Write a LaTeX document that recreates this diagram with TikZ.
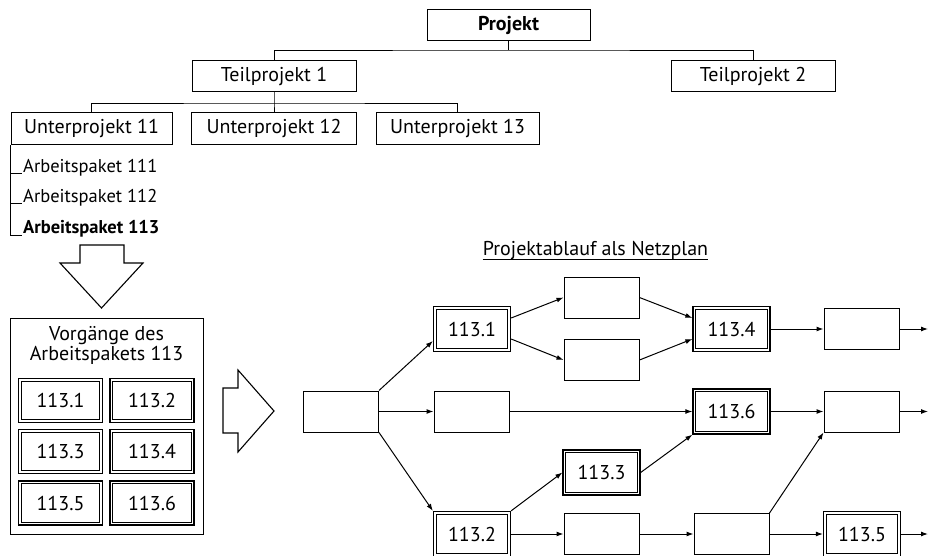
\documentclass[tikz,border=0pt]{standalone}
\usepackage{fontspec}
\setmainfont{PT Sans}
\usetikzlibrary{arrows.meta,calc}
\begin{document}
\begin{tikzpicture}[x=1pt,y=-1pt,
  lbl/.style={font=\fontsize{20}{22}\selectfont},
  small/.style={font=\fontsize{18.5}{20}\selectfont},
  box/.style={draw,line width=1pt,inner sep=0pt,lbl},
  tree/.style={box,minimum height=31pt},
  act/.style={box,minimum width=75pt,minimum height=41pt},
  dbl/.style={box,line width=1.3pt,minimum width=77pt,minimum height=45pt},
  inner/.style={line width=0.7pt},
  link/.style={line width=0.9pt},
  flow/.style={line width=1pt,-{Latex[length=7pt,width=5pt]}},
  block/.style={draw,line width=1.1pt,line join=miter}
]
\useasboundingbox (0,0) rectangle (928,556);

% ---------- project structure tree ----------
\node[tree,minimum width=163pt] (proj) at (508.5,25.5) {\textbf{Projekt}};
\node[tree,minimum width=164pt] (tp1) at (274,76.5) {Teilprojekt 1};
\node[tree,minimum width=164pt] (tp2) at (753,76.5) {Teilprojekt 2};
\node[tree,minimum width=161pt,minimum height=32pt] (up11) at (91.5,129) {Unterprojekt 11};
\node[tree,minimum width=165pt,minimum height=32pt] (up12) at (274,129) {Unterprojekt 12};
\node[tree,minimum width=163pt,minimum height=32pt] (up13) at (457.5,129) {Unterprojekt 13};

\coordinate (bus1) at (508.5,50);
\coordinate (bus2) at (274,103);
\draw[link] (proj.south) -- (bus1);
\draw[link] (tp1.north) |- (bus1) -| (tp2.north);
\draw[link] (tp1.south) -- (bus2) -- (up12.north);
\draw[link] (up11.north) |- (bus2) -| (up13.north);

% work packages below Unterprojekt 11
\node[small,inner sep=0pt,anchor=base west] (ap1) at (23,172) {Arbeitspaket 111};
\node[small,inner sep=0pt,anchor=base west] (ap2) at (23,202) {Arbeitspaket 112};
\node[small,inner sep=0pt,anchor=base west] (ap3) at (23,233) {\textbf{Arbeitspaket 113}};
\draw[link] (up11.south west) |- ([xshift=-1pt,yshift=-2pt]ap3.base west);
\draw[link] ([yshift=-1pt]up11.south west |- ap1.base) -- ([xshift=-1pt,yshift=-1pt]ap1.base west);
\draw[link] ([yshift=-1pt]up11.south west |- ap2.base) -- ([xshift=-1pt,yshift=-1pt]ap2.base west);

% ---------- block arrow down ----------
\draw[block] (80,245) -- (124,245) -- (124,263) -- (143,263) -- (101.5,308)
  -- (60,263) -- (80,263) -- cycle;

% ---------- activities of work package 113 ----------
\node[draw,line width=1pt,inner sep=0pt,minimum width=193pt,minimum height=216pt] (vg) at (106.5,426) {};
\node[lbl,inner sep=0pt,anchor=base] (vgt1) at (106.5,340) {Vorgänge des};
\node[lbl,inner sep=0pt,anchor=base] (vgt2) at (106.5,360) {Arbeitspakets 113};
\node[dbl,minimum width=84pt,minimum height=44pt] (sb1) at (60.5,400.5) {113.1};
\node[dbl,minimum width=84pt,minimum height=44pt] (sb2) at (152,400.5) {113.2};
\node[dbl,minimum width=84pt,minimum height=44pt] (sb3) at (60.5,451.5) {113.3};
\node[dbl,minimum width=84pt,minimum height=44pt] (sb4) at (152,451.5) {113.4};
\node[dbl,minimum width=84pt,minimum height=44pt] (sb5) at (60.5,503) {113.5};
\node[dbl,minimum width=84pt,minimum height=44pt] (sb6) at (152,503) {113.6};

% ---------- block arrow right ----------
\draw[block] (223,388) -- (238,388) -- (238,370) -- (274,411) -- (238,452)
  -- (238,433) -- (223,433) -- cycle;

% ---------- network plan ----------
\node[lbl,inner sep=0pt,anchor=base] (title) at (595.5,255) {Projektablauf als Netzplan};
\draw[line width=0.8pt] ([yshift=-4pt]title.base west) -- ([yshift=-4pt]title.base east);

\node[act] (s)  at (341,411.5) {};
\node[dbl] (n1) at (472,329) {113.1};
\node[act] (b1) at (601.5,297.5) {};
\node[act] (b2) at (601.5,360) {};
\node[act] (m1) at (471.5,411.5) {};
\node[dbl] (n3) at (601.5,472.5) {113.3};
\node[dbl] (n2) at (472,534) {113.2};
\node[act] (b3) at (601.5,534) {};
\node[act] (b4) at (731.5,534) {};
\node[dbl] (n5) at (862,534) {113.5};
\node[dbl] (n4) at (731.5,329) {113.4};
\node[act] (b5) at (861.5,329) {};
\node[dbl] (n6) at (731.5,411.5) {113.6};
\node[act] (b6) at (861.5,411.5) {};

% inner frame of every activity of work package 113
\foreach \n in {sb1,sb2,sb3,sb4,sb5,sb6,n1,n2,n3,n4,n5,n6}
  \draw[inner] ([shift={(3.4pt,-3.4pt)}]\n.north west) rectangle ([shift={(-3.4pt,3.4pt)}]\n.south east);

\coordinate (e1) at (928,329);
\coordinate (e2) at (928,411.5);
\coordinate (e3) at (928,534);

\draw[flow] (s.north east) -- ([yshift=-12pt]n1.west);
\draw[flow] (s.east) -- (m1.west);
\draw[flow] (s.south east) -- (n2.north west);
\draw[flow] ([yshift=11pt]n1.east) -- (b1.west);
\draw[flow] ([yshift=-10pt]n1.east) -- (b2.west);
\draw[flow] (b1.east) -- ([yshift=11pt]n4.west);
\draw[flow] (b2.east) -- ([yshift=-10pt]n4.west);
\draw[flow] (n4.east) -- (b5.west);
\draw[flow] (b5.east) -- (e1);
\draw[flow] (m1.east) -- (n6.west);
\draw[flow] (n6.east) -- (b6.west);
\draw[flow] (b6.east) -- (e2);
\draw[flow] (n2.north east) -- (n3.west);
\draw[flow] (n3.east) -- (n6.south west);
\draw[flow] (n2.east) -- (b3.west);
\draw[flow] (b3.east) -- (b4.west);
\draw[flow] (b4.north east) -- (b6.south west);
\draw[flow] (b4.east) -- (n5.west);
\draw[flow] (n5.east) -- (e3);
\end{tikzpicture}
\end{document}
